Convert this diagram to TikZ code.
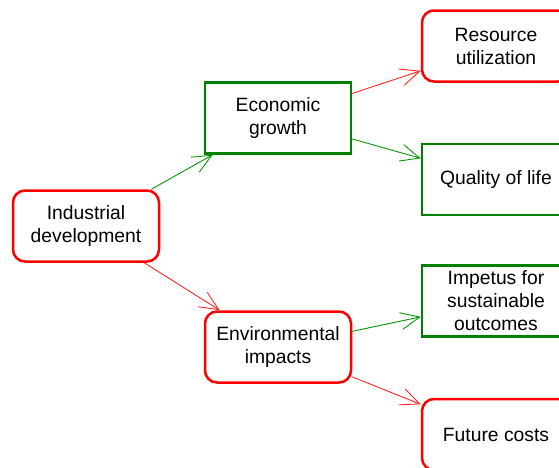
\documentclass[tikz,border=0pt]{standalone}
\usepackage{fontspec}
\setmainfont{Liberation Sans}
\usepackage{tikz}
\usetikzlibrary{arrows.meta}
\usetikzlibrary{positioning}

\begin{document}
\begin{tikzpicture}[x=1pt, y=-1pt, >={Straight Barb[length=19pt,width=17pt]}]
	\tikzstyle{redbox}=[rectangle, rounded corners=12pt, draw=red, line width=2.5pt, minimum width=146pt, minimum height=71pt, align=center, font=\fontsize{19.3}{23}\selectfont]
	\tikzstyle{greenbox}=[rectangle, draw=green!50!black, line width=2.5pt, minimum width=146pt, minimum height=71pt, align=center, font=\fontsize{19.3}{23}\selectfont]
	\tikzstyle{redline}=[->, draw=red!85, line width=0.9pt]
	\tikzstyle{greenline}=[->, draw=green!60!black, line width=0.9pt]
	
	\useasboundingbox (0,0) rectangle (559,467);
	
	\node[redbox] at (86,226) (ind) {Industrial\\development};
	
	\node[greenbox] at (278,118) (eco) {Economic\\growth};
	\node[redbox] at (278,347) (env) {Environmental\\impacts};
	
	\node[redbox, minimum width=148pt] at (496,46) (res) {Resource\\utilization};
	\node[greenbox, minimum width=148pt] (qol) [below=60pt of res] {Quality of life};
	\node[greenbox, minimum width=148pt] (imp) [below=48pt of qol] {Impetus for\\sustainable\\outcomes};
	\node[redbox, minimum width=148pt] (fut) [below=60pt of imp] {Future costs};
	
	\path (ind) edge [greenline] (eco)
	(ind) edge [redline] (env)
	
	(eco) edge [redline] (res)
	(eco) edge [greenline] (qol)
	
	(env) edge [greenline] (imp)
	(env) edge [redline] (fut);
	
\end{tikzpicture}
\end{document}
